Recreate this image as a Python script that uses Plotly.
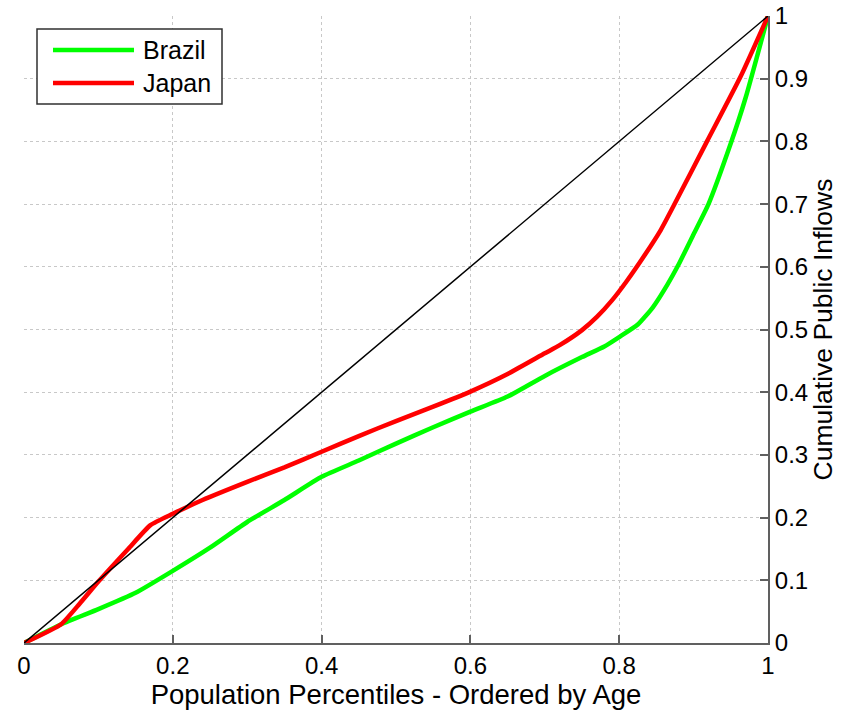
import plotly.graph_objects as go

# Data
brazil_x = [0, 0.05, 0.1, 0.15, 0.2, 0.25, 0.3, 0.35, 0.4, 0.45, 0.5, 0.55, 0.6, 0.65, 0.7, 0.75, 0.78, 0.8, 0.825, 0.845, 0.865, 0.88, 0.9, 0.92, 0.95, 0.97, 1.0]
brazil_y = [0, 0.03, 0.054, 0.08, 0.115, 0.152, 0.193, 0.228, 0.265, 0.291, 0.318, 0.344, 0.369, 0.393, 0.426, 0.456, 0.473, 0.488, 0.508, 0.535, 0.572, 0.604, 0.652, 0.70, 0.797, 0.87, 1.0]

japan_x = [0, 0.05, 0.075, 0.1, 0.14, 0.17, 0.2, 0.24, 0.3, 0.35, 0.4, 0.45, 0.5, 0.55, 0.6, 0.65, 0.7, 0.72, 0.75, 0.77, 0.79, 0.81, 0.835, 0.855, 0.873, 0.918, 0.963, 1.0]
japan_y = [0, 0.03, 0.063, 0.098, 0.15, 0.188, 0.206, 0.228, 0.257, 0.28, 0.305, 0.33, 0.354, 0.377, 0.401, 0.429, 0.462, 0.475, 0.499, 0.52, 0.546, 0.577, 0.62, 0.657, 0.697, 0.80, 0.903, 1.0]

equal_x = [0, 1]
equal_y = [0, 1]

x_ticks = [0, 0.2, 0.4, 0.6, 0.8, 1]
x_ticklabels = ["0", "0.2", "0.4", "0.6", "0.8", "1"]
y_ticks = [0, 0.1, 0.2, 0.3, 0.4, 0.5, 0.6, 0.7, 0.8, 0.9, 1]
y_ticklabels = ["0", "0.1", "0.2", "0.3", "0.4", "0.5", "0.6", "0.7", "0.8", "0.9", "1"]

series_names = ["Brazil", "Japan"]
series_colors = ["#00ff00", "#ff0000"]

FONT = "Liberation Sans, Arial, sans-serif"

fig = go.Figure()
fig.add_trace(go.Scatter(x=brazil_x, y=brazil_y, mode="lines", name=series_names[0],
                         line=dict(color=series_colors[0], width=4.5, shape="spline", smoothing=0.5),
                         showlegend=False))
fig.add_trace(go.Scatter(x=japan_x, y=japan_y, mode="lines", name=series_names[1],
                         line=dict(color=series_colors[1], width=4.5, shape="spline", smoothing=0.5),
                         showlegend=False))
fig.add_trace(go.Scatter(x=equal_x, y=equal_y, mode="lines", name="equality",
                         line=dict(color="black", width=1.5), showlegend=False))

tick_font = dict(family=FONT, size=24, color="black")

fig.update_layout(
    width=854, height=719,
    margin=dict(l=24, r=86, t=16, b=76),
    paper_bgcolor="white", plot_bgcolor="white",
    xaxis=dict(range=[0, 1], tickvals=x_ticks, ticktext=x_ticklabels, automargin=False,
               ticklabeloverflow="allow",
               showgrid=True, gridcolor="#c8c8c8", griddash="dot", gridwidth=1,
               zeroline=False, showline=True, linecolor="#606060", linewidth=2,
               ticks="inside", ticklen=8, tickcolor="#606060", tickwidth=1.5,
               tickfont=tick_font,
               title=dict(text="Population Percentiles - Ordered by Age",
                          font=dict(family=FONT, size=27.5, color="black"), standoff=4)),
    yaxis=dict(range=[0, 1], tickvals=y_ticks, ticktext=y_ticklabels, side="right", automargin=False,
               ticklabeloverflow="allow",
               showgrid=True, gridcolor="#c8c8c8", griddash="dot", gridwidth=1,
               zeroline=False, showline=True, linecolor="#606060", linewidth=2,
               ticks="inside", ticklen=8, tickcolor="#606060", tickwidth=1.5,
               tickfont=tick_font,
               title=dict(text="Cumulative Public Inflows",
                          font=dict(family=FONT, size=26.5, color="black"), standoff=4)),
)

# Manual legend box (paper coords, in pixels of the plot area)
pl, pr, pt, pb = 24, 768, 16, 643
def px(xp):
    return (xp - pl) / (pr - pl)
def py(yp):
    return (pb - yp) / (pb - pt)

fig.add_shape(type="rect", xref="paper", yref="paper",
              x0=px(37), x1=px(222), y0=py(104), y1=py(29),
              line=dict(color="#303030", width=1.5), fillcolor="white", layer="above")
for i, (name, color) in enumerate(zip(series_names, series_colors)):
    yc = 50 + i * 33
    fig.add_shape(type="line", xref="paper", yref="paper",
                  x0=px(53), x1=px(134), y0=py(yc), y1=py(yc),
                  line=dict(color=color, width=4.5), layer="above")
    fig.add_annotation(xref="paper", yref="paper", x=px(141), y=py(yc),
                       text=name, showarrow=False, xanchor="left", yanchor="middle",
                       font=dict(family=FONT, size=25, color="black"))

fig.write_html("out.html", config={"displayModeBar": False},
               post_script="document.body.style.margin='0';")
